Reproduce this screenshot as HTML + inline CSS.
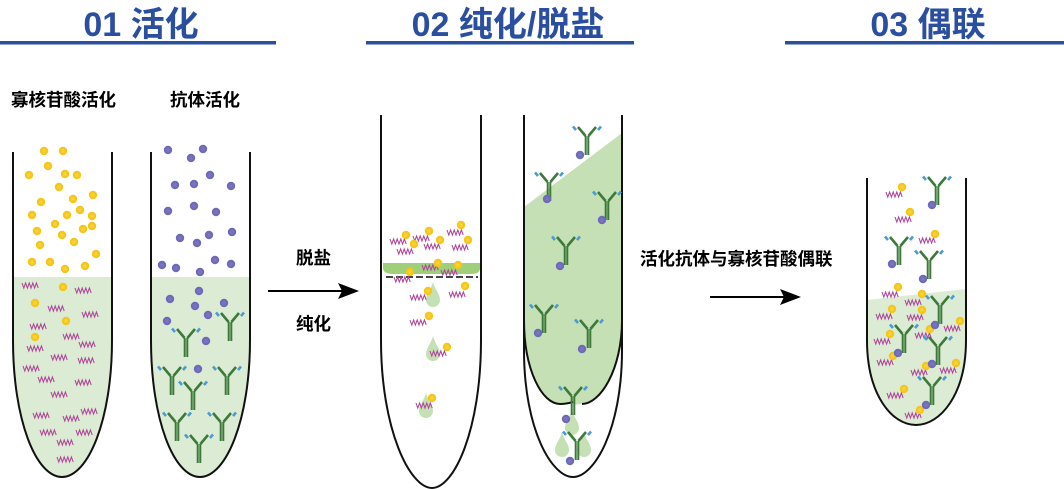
<!DOCTYPE html>
<html><head><meta charset="utf-8"><style>
html,body{margin:0;padding:0;background:#fff;}
svg{display:block;}
.h{font-family:"Liberation Sans","Noto Sans CJK SC",sans-serif;font-weight:bold;fill:#2a4fa0;font-size:34px;}
.t{font-family:"Liberation Sans","Noto Sans CJK SC",sans-serif;font-weight:bold;fill:#000;font-size:17.5px;}
</style></head><body>
<svg width="1064" height="489" viewBox="0 0 1064 489" xmlns="http://www.w3.org/2000/svg">
<defs>
<g id="y"><circle r="4.2" fill="#f5c518"/><circle r="2.4" fill="#f8d33a" stroke="#f5c518" stroke-width="2" stroke-dasharray="1 1"/></g>
<g id="p"><circle r="4.2" fill="#6e6ab8"/><circle r="2.4" fill="#7a76c2" stroke="#6e6ab8" stroke-width="2" stroke-dasharray="1 1"/></g>
<polyline id="w" points="0,0 1.8,5 3.6,0 5.4,5 7.2,0 9,5 10.8,0 12.6,5 14.4,0 16.2,5" fill="none" stroke="#b0499b" stroke-width="1.1"/>
<g id="a">
<path d="M-1.4,10 L-9,1 M1.4,10 L9,1" stroke="#3d7a3a" stroke-width="2.6" fill="none"/>
<path d="M-11,4 L-14,0.5 M11,4 L14,0.5" stroke="#4a9ad8" stroke-width="2.6" fill="none"/>
<path d="M-1.3,10 V29 M1.3,10 V29" stroke="#3d7a3a" stroke-width="2"/>
</g>
<path id="d" d="M0,0 C2,8 7,12 7,18 A7,7 0 0 1 -7,18 C-7,12 -2,8 0,0Z" fill="#c5e0b4"/>
</defs>

<!-- headers -->
<text class="h" x="141" y="36" text-anchor="middle">01 活化</text>
<text class="h" x="508" y="36" text-anchor="middle">02 纯化/脱盐</text>
<text class="h" x="928" y="36" text-anchor="middle">03 偶联</text>
<rect x="0" y="41" width="276" height="3.5" fill="#2a4fa0"/>
<rect x="366" y="41" width="268" height="3.5" fill="#2a4fa0"/>
<rect x="785" y="41" width="279" height="3.5" fill="#2a4fa0"/>

<text class="t" x="11" y="106">寡核苷酸活化</text>
<text class="t" x="170" y="106">抗体活化</text>
<text class="t" x="296" y="264">脱盐</text>
<text class="t" x="296" y="330">纯化</text>
<text class="t" x="640" y="265">活化抗体与寡核苷酸偶联</text>

<!-- arrows -->
<line x1="268" y1="291" x2="345" y2="291" stroke="#000" stroke-width="2"/>
<path d="M359,291 L338,283 L342,291 L338,299Z" fill="#000"/>
<line x1="710" y1="297" x2="787" y2="297" stroke="#000" stroke-width="2"/>
<path d="M801,297 L780,289 L784,297 L780,305Z" fill="#000"/>

<!-- tube 1 -->
<path d="M13,277 H112 V340 C112,420 88,477 62,477 C36,477 13,420 13,340Z" fill="#dcebd3"/>
<path d="M13,152 V340 C13,420 36,477 62,477 C88,477 112,420 112,340 V152" fill="none" stroke="#111" stroke-width="2"/>
<g>
<use href="#y" x="44" y="151"/><use href="#y" x="63" y="151"/><use href="#y" x="48" y="166"/><use href="#y" x="29" y="175"/><use href="#y" x="65" y="174"/><use href="#y" x="77" y="175"/><use href="#y" x="59" y="187"/><use href="#y" x="93" y="195"/><use href="#y" x="41" y="202"/><use href="#y" x="73" y="199"/><use href="#y" x="32" y="215"/><use href="#y" x="67" y="215"/><use href="#y" x="80" y="210"/><use href="#y" x="92" y="216"/><use href="#y" x="92" y="226"/><use href="#y" x="55" y="224"/><use href="#y" x="37" y="231"/><use href="#y" x="83" y="229"/><use href="#y" x="62" y="235"/><use href="#y" x="74" y="242"/><use href="#y" x="40" y="245"/><use href="#y" x="96" y="254"/><use href="#y" x="32" y="262"/><use href="#y" x="50" y="262"/><use href="#y" x="65" y="269"/><use href="#y" x="85" y="266"/><use href="#y" x="63" y="287"/><use href="#y" x="35" y="303"/><use href="#y" x="66" y="321"/><use href="#y" x="35" y="337"/>
<use href="#w" x="22" y="283"/><use href="#w" x="75" y="288"/><use href="#w" x="48" y="306"/><use href="#w" x="82" y="312"/><use href="#w" x="30" y="324"/><use href="#w" x="63" y="334"/><use href="#w" x="27" y="346"/><use href="#w" x="51" y="355"/><use href="#w" x="79" y="342"/><use href="#w" x="78" y="358"/><use href="#w" x="23" y="366"/><use href="#w" x="38" y="377"/><use href="#w" x="75" y="380"/><use href="#w" x="51" y="392"/><use href="#w" x="33" y="413"/><use href="#w" x="63" y="416"/><use href="#w" x="81" y="409"/><use href="#w" x="40" y="430"/><use href="#w" x="76" y="430"/><use href="#w" x="57" y="440"/><use href="#w" x="57" y="457"/>
</g>

<!-- tube 2 -->
<path d="M151,277 H250 V340 C250,420 226,477 200,477 C174,477 151,420 151,340Z" fill="#dcebd3"/>
<path d="M151,152 V340 C151,420 174,477 200,477 C226,477 250,420 250,340 V152" fill="none" stroke="#111" stroke-width="2"/>
<g>
<use href="#p" x="168" y="150"/><use href="#p" x="191" y="158"/><use href="#p" x="203" y="149"/><use href="#p" x="175" y="185"/><use href="#p" x="194" y="184"/><use href="#p" x="210" y="175"/><use href="#p" x="231" y="186"/><use href="#p" x="168" y="211"/><use href="#p" x="194" y="206"/><use href="#p" x="216" y="212"/><use href="#p" x="180" y="238"/><use href="#p" x="197" y="243"/><use href="#p" x="209" y="235"/><use href="#p" x="232" y="232"/><use href="#p" x="162" y="265"/><use href="#p" x="176" y="268"/><use href="#p" x="200" y="272"/><use href="#p" x="215" y="260"/><use href="#p" x="231" y="264"/><use href="#p" x="199" y="291"/><use href="#p" x="170" y="299"/><use href="#p" x="195" y="306"/><use href="#p" x="224" y="303"/><use href="#p" x="208" y="315"/><use href="#p" x="167" y="321"/><use href="#p" x="206" y="341"/><use href="#p" x="198" y="369"/>
<use href="#a" x="230" y="312"/><use href="#a" x="186" y="328"/><use href="#a" x="172" y="366"/><use href="#a" x="227" y="366"/><use href="#a" x="193" y="381"/><use href="#a" x="177" y="412"/><use href="#a" x="222" y="412"/><use href="#a" x="199" y="434"/>
</g>

<!-- tube 3 -->
<path d="M381,115 V340 C381,430 410,488 432,488 C454,488 481,430 481,340 V115" fill="none" stroke="#111" stroke-width="2"/>
<path d="M383,263 H480 V268 C480,273 476,274 470,274 H393 C387,274 383,272 383,268Z" fill="#9fcf7a"/>
<line x1="386" y1="277" x2="478" y2="277" stroke="#444" stroke-width="2" stroke-dasharray="7 3"/>
<use href="#d" x="433" y="282"/><use href="#d" x="433" y="336"/><use href="#d" x="426" y="393"/>
<g>
<use href="#w" x="390" y="239"/><use href="#w" x="413" y="236"/><use href="#w" x="397" y="249"/><use href="#w" x="424" y="244"/><use href="#w" x="447" y="230"/><use href="#w" x="452" y="245"/><use href="#w" x="394" y="277"/><use href="#w" x="422" y="265"/><use href="#w" x="441" y="270"/><use href="#w" x="410" y="295"/><use href="#w" x="449" y="292"/><use href="#w" x="410" y="320"/><use href="#w" x="430" y="351"/><use href="#w" x="416" y="403"/>
<use href="#y" x="406" y="235"/><use href="#y" x="429" y="231"/><use href="#y" x="414" y="244"/><use href="#y" x="440" y="240"/><use href="#y" x="461" y="225"/><use href="#y" x="468" y="240"/><use href="#y" x="438" y="263"/><use href="#y" x="458" y="265"/><use href="#y" x="410" y="272"/><use href="#y" x="428" y="291"/><use href="#y" x="465" y="286"/><use href="#y" x="429" y="316"/><use href="#y" x="447" y="347"/><use href="#y" x="432" y="398"/>
</g>

<!-- tube 4 -->
<path d="M524,207 L622,133 V320 C622,370 600,404 582,404 C576,404 574,406 573,402 C570,405 566,404 560,404 C542,404 524,370 524,320Z" fill="#c5e0b4"/>
<path d="M622,320 C622,370 600,404 582,404 M573,402 C566,404 562,404 560,404 C542,404 524,370 524,320" fill="none" stroke="#111" stroke-width="2"/>
<path d="M524,115 V350 C524,430 552,477 573,477 C594,477 622,430 622,350 V115" fill="none" stroke="#111" stroke-width="2"/>
<use href="#d" x="572" y="410"/><use href="#d" x="562" y="432"/><use href="#d" x="584" y="432"/>
<g>
<use href="#a" x="587" y="126"/><use href="#a" x="549" y="172"/><use href="#a" x="607" y="191"/><use href="#a" x="566" y="236"/><use href="#a" x="544" y="304"/><use href="#a" x="589" y="319"/><use href="#a" x="573" y="386"/><use href="#a" x="577" y="431"/>
<use href="#p" x="580" y="155"/><use href="#p" x="547" y="199"/><use href="#p" x="602" y="220"/><use href="#p" x="560" y="266"/><use href="#p" x="538" y="333"/><use href="#p" x="582" y="349"/><use href="#p" x="566" y="419"/><use href="#p" x="570" y="461"/>
</g>

<!-- tube 5 -->
<path d="M867,300 L966,289 V340 C966,395 940,425 916,425 C892,425 867,395 867,340Z" fill="#dcebd3"/>
<path d="M867,178 V340 C867,395 892,425 916,425 C940,425 966,395 966,340 V178" fill="none" stroke="#111" stroke-width="2"/>
<g>
<use href="#w" x="886" y="192"/><use href="#w" x="895" y="217"/><use href="#w" x="919" y="238"/><use href="#w" x="882" y="292"/><use href="#w" x="905" y="300"/><use href="#w" x="876" y="314"/><use href="#w" x="907" y="315"/><use href="#w" x="874" y="339"/><use href="#w" x="915" y="333"/><use href="#w" x="944" y="326"/><use href="#w" x="877" y="360"/><use href="#w" x="911" y="370"/><use href="#w" x="940" y="368"/><use href="#w" x="887" y="393"/><use href="#w" x="905" y="413"/>
<use href="#y" x="902" y="187"/><use href="#y" x="910" y="212"/><use href="#y" x="935" y="234"/><use href="#y" x="898" y="287"/><use href="#y" x="922" y="294"/><use href="#y" x="892" y="309"/><use href="#y" x="922" y="310"/><use href="#y" x="890" y="334"/><use href="#y" x="893" y="356"/><use href="#y" x="930" y="329"/><use href="#y" x="960" y="321"/><use href="#y" x="926" y="366"/><use href="#y" x="956" y="363"/><use href="#y" x="904" y="389"/><use href="#y" x="920" y="410"/>
<use href="#a" x="937" y="176"/><use href="#a" x="899" y="236"/><use href="#a" x="929" y="250"/><use href="#a" x="940" y="295"/><use href="#a" x="904" y="324"/><use href="#a" x="938" y="336"/><use href="#a" x="932" y="376"/>
<use href="#p" x="932" y="205"/><use href="#p" x="892" y="264"/><use href="#p" x="923" y="279"/><use href="#p" x="935" y="325"/><use href="#p" x="898" y="353"/><use href="#p" x="932" y="364"/><use href="#p" x="926" y="405"/>
</g>
</svg>
</body></html>
